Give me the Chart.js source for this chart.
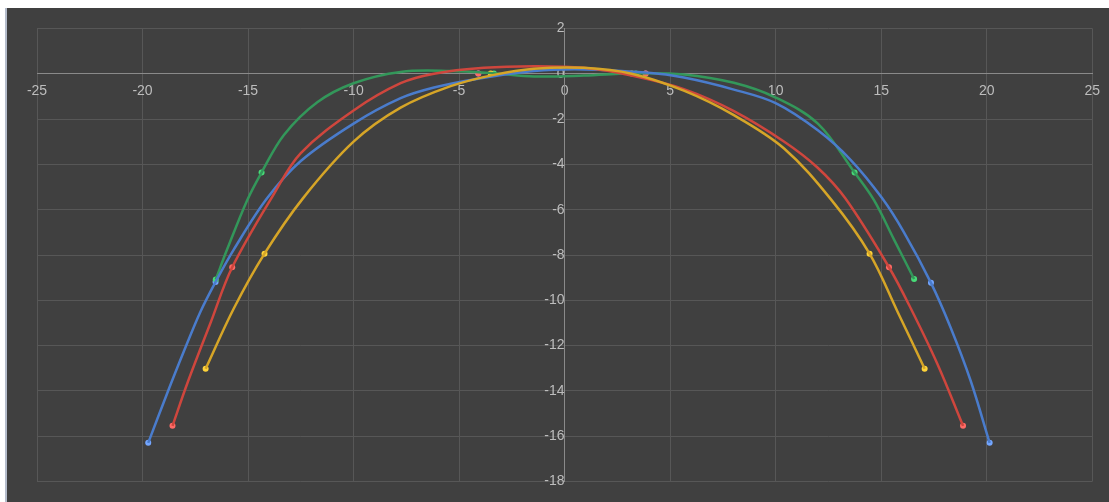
<!DOCTYPE html>
<html>
<head>
<meta charset="utf-8">
<script src="https://cdn.jsdelivr.net/npm/chart.js@4/dist/chart.umd.min.js"></script>
<style>
    html, body { margin: 0; padding: 0; background: #ffffff; }
    #wrap {
        position: absolute; left: 5px; top: 8px;
        width: 1104px; height: 494px;
        background: #404040;
        border-left: 2px solid #b4bccb;
        box-sizing: border-box;
    }
    #wrap canvas { display: block; }
</style>
</head>
<body>
<div id="wrap"><canvas id="curveChart" width="1102" height="494"></canvas></div>
<script>
// 曲線
const blueLineX = [-19.73, -18.83, -18.04, -17.25, -16.54, -15.67, -14.1, -12.5, -10, -7.77, -6.19, -4.1, -1.45, 0.91, 3.84, 5.65, 8.02, 10, 12, 13.55, 15.05, 16.08, 17.36, 18.29, 19.24, 20.14];
const blueLineY = [-16.29, -14.1, -12.25, -10.49, -9.19, -7.75, -5.5, -3.85, -2.2, -1.08, -0.61, -0.22, 0.12, 0.19, 0.05, -0.17, -0.7, -1.3, -2.5, -3.8, -5.5, -7.0, -9.23, -11.2, -13.55, -16.29];
const redLineX = [-18.58, -17.88, -16.78, -15.75, -13.77, -12.5, -10, -7.77, -6.19, -3.82, -1.45, 0.91, 3.28, 5.65, 8.02, 10.39, 11.98, 13.3, 15.37, 16.4, 17.66, 18.88];
const redLineY = [-15.54, -13.67, -11.0, -8.54, -5.3, -3.5, -1.62, -0.42, 0.0, 0.26, 0.33, 0.26, -0.1, -0.68, -1.65, -2.99, -4.14, -5.5, -8.54, -10.35, -12.8, -15.54];
const greenLineX = [-16.53, -15.99, -15.04, -14.36, -13.3, -11.72, -10, -7.77, -5.4, -3.35, -1.45, 0.91, 3.38, 5.65, 8.02, 10, 12, 13.74, 14.66, 15.61, 16.56];
const greenLineY = [-9.08, -7.75, -5.58, -4.36, -2.7, -1.26, -0.42, 0.08, 0.12, 0.02, -0.12, -0.08, 0.02, -0.03, -0.4, -1.05, -2.2, -4.36, -5.58, -7.32, -9.06];
const yellowLineX = [-17.01, -15.67, -14.22, -12.4, -10, -7.77, -5.4, -3.35, -1.45, 0.91, 3.18, 5.65, 8.02, 10.4, 12.65, 14.45, 15.77, 17.06];
const yellowLineY = [-13.02, -10.35, -7.94, -5.5, -3.0, -1.5, -0.55, -0.05, 0.22, 0.26, 0.0, -0.75, -1.83, -3.3, -5.58, -7.94, -10.49, -13.02];

// マーカー
const blueMarkX = [-19.73, -16.54, -4.09, 3.84, 17.36, 20.14];
const blueMarkY = [-16.29, -9.19, 0.01, 0.01, -9.23, -16.29];
const redMarkX = [-18.58, -15.75, -4.09, 3.84, 15.37, 18.88];
const redMarkY = [-15.54, -8.54, 0.01, 0.01, -8.54, -15.54];
const greenMarkX = [-16.53, -14.36, -3.35, 3.38, 13.74, 16.56];
const greenMarkY = [-9.08, -4.36, 0.01, 0.01, -4.36, -9.06];
const yellowMarkX = [-17.01, -14.22, -3.5, 3.18, 14.45, 17.06];
const yellowMarkY = [-13.02, -7.94, 0.01, 0.01, -7.94, -13.02];

const xMin = -25, xMax = 25, xStep = 5;
const yMin = -18, yMax = 2, yStep = 2;

document.addEventListener('DOMContentLoaded', function () {
    const ctx = document.getElementById('curveChart').getContext('2d');

    const toPoints = (xs, ys) => xs.map((x, i) => ({ x: x, y: ys[i] }));

    const lineSeries = (xs, ys, color) => ({
        data: toPoints(xs, ys),
        showLine: true,
        tension: 0.35,
        borderColor: color,
        borderWidth: 2.5,
        pointRadius: 0
    });

    const markSeries = (xs, ys, color) => ({
        data: toPoints(xs, ys),
        showLine: false,
        pointRadius: 3,
        pointBorderWidth: 0,
        pointBackgroundColor: color
    });

    const gridColor = c => c.tick && c.tick.value === 0 ? '#8a8a8a' : '#575757';
    const tickFont = { family: 'Liberation Sans, Arial, sans-serif', size: 14 };

    new Chart(ctx, {
        type: 'scatter',
        data: {
            datasets: [
                lineSeries(yellowLineX, yellowLineY, '#d6a527'),
                lineSeries(redLineX, redLineY, '#cf463d'),
                lineSeries(blueLineX, blueLineY, '#4a7ccc'),
                lineSeries(greenLineX, greenLineY, '#33975a'),
                markSeries(yellowMarkX, yellowMarkY, '#ffd43a'),
                markSeries(redMarkX, redMarkY, '#ff6a66'),
                markSeries(greenMarkX, greenMarkY, '#48dc78'),
                markSeries(blueMarkX, blueMarkY, '#74a6ff')
            ]
        },
        options: {
            responsive: false,
            animation: false,
            layout: { padding: { left: 30, top: 17, right: 10, bottom: 15 } },
            plugins: {
                legend: { display: false },
                tooltip: { enabled: false }
            },
            scales: {
                x: {
                    type: 'linear',
                    position: { y: 0 },
                    min: xMin,
                    max: xMax,
                    border: { color: '#8a8a8a', width: 1 },
                    grid: { color: gridColor, drawTicks: false },
                    ticks: { stepSize: xStep, padding: 9, color: '#bdbdbd', font: tickFont }
                },
                y: {
                    type: 'linear',
                    position: { x: 0 },
                    min: yMin,
                    max: yMax,
                    border: { color: '#8a8a8a', width: 1 },
                    grid: { color: gridColor, drawTicks: false },
                    ticks: { stepSize: yStep, padding: 12, color: '#bdbdbd', font: tickFont }
                }
            }
        }
    });
});
</script>
</body>
</html>
